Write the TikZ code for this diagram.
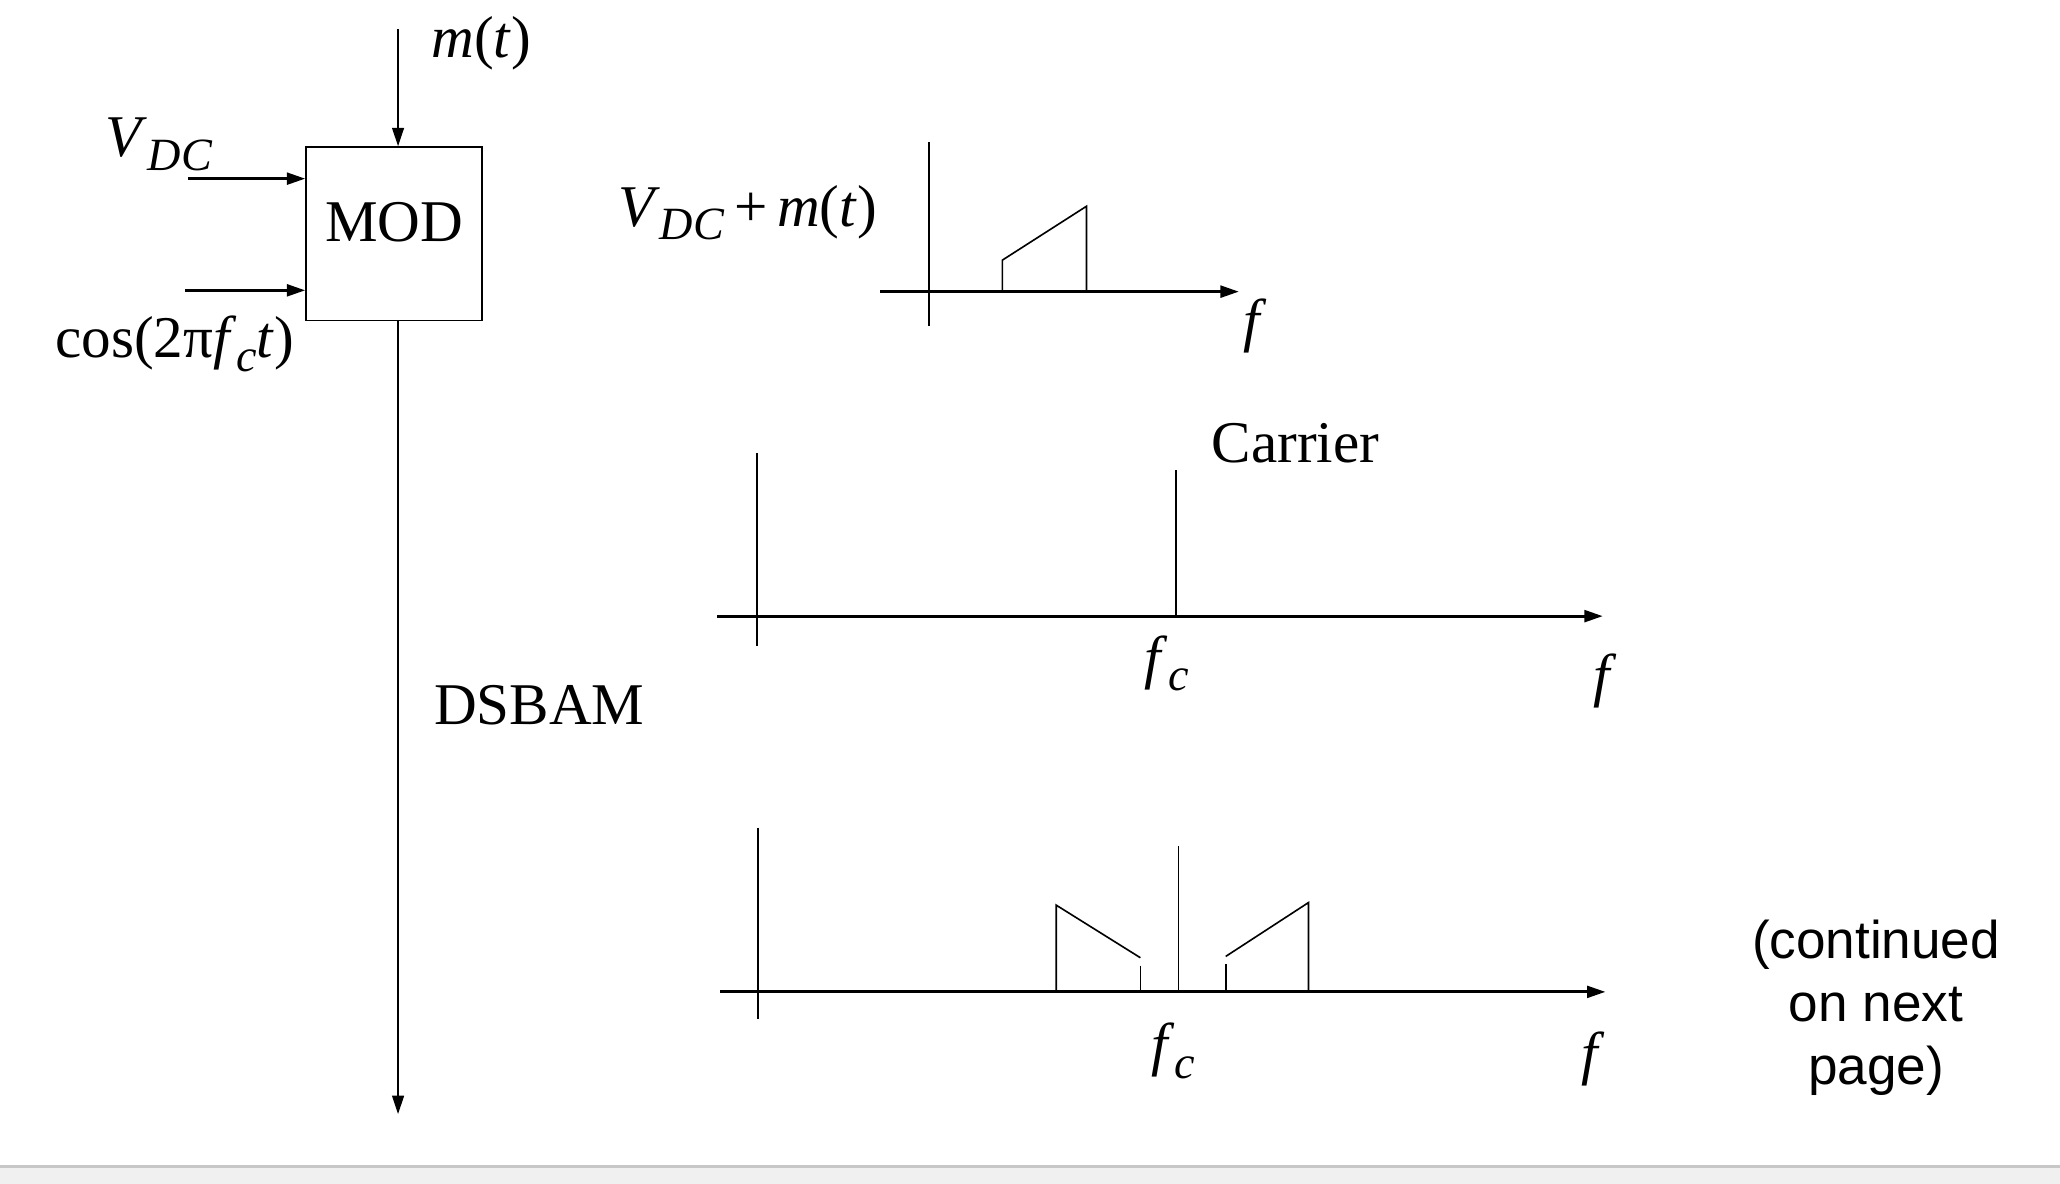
\documentclass[tikz,border=0pt]{standalone}
\usepackage{fontspec}
\setmainfont{Liberation Serif}
\newfontfamily\contfont{Liberation Sans}
\usetikzlibrary{arrows.meta}
\newcommand{\lowsub}[1]{\raisebox{-0.5ex}{\fontsize{10}{10}\selectfont\itshape #1}}

\begin{document}
\begin{tikzpicture}[x=0.01cm, y=-0.01cm,
    font=\fontsize{12.8}{15}\selectfont,
    arr/.style={-{Triangle[length=0.14cm, width=0.09cm]}},
    thin line/.style={line width=0.35pt},
    axis/.style={line width=0.6pt, -{Triangle[length=0.14cm, width=0.09cm]}}]
    \useasboundingbox (0,0) rectangle (1568,901);
    \fill[black!6] (0,888) rectangle (1568,901);
    \draw[black!22, line width=0.5pt] (0,888) -- (1568,888);

    % modulator
    \node[draw, thin line, minimum width=1.34cm, minimum height=1.32cm, inner sep=0pt,
          text height=0.3cm, text depth=0.18cm] (mod) at (300,178) {MOD};
    \coordinate (mtin) at (303,22);
    \coordinate (vin) at (143,136);
    \coordinate (cin) at (141,221);
    \coordinate (out) at (303,848);
    \node[anchor=west] (mt) at (316,33) {\textit{m}(\textit{t})};
    \node (vdc) at (121,110) {\textit{V}\lowsub{DC}};
    \node (cosl) at (133,262) {cos(2π\textit{f}\lowsub{c}\textit{t})};
    \node[anchor=west] (dsbam) at (318,537) {DSBAM};

    \draw[arr, thin line] (mtin) -- (mtin |- mod.north);
    \draw[arr, line width=0.6pt] (vin) -- (vin -| mod.west);
    \draw[arr, line width=0.6pt] (cin) -- (cin -| mod.west);
    \draw[arr, thin line] (out |- mod.south) -- (out);

    % V_DC + m(t)
    \node (sig) at (569,162) {\textit{V}\lowsub{DC}\,+\,\textit{m}(\textit{t})};
    \node (f1) at (955,248) {\textit{f}};
    \draw[thin line] (707,108) -- (707,248);
    \draw[axis] (670,222) -- (943,222);
    \draw[thin line] (763,222) -- (763,198) -- (827,157) -- (827,222);

    % carrier
    \node[anchor=west] (carr) at (910,337) {Carrier};
    \node (fc2) at (888,505) {\textit{f}\lowsub{c}};
    \node (f2) at (1222,518) {\textit{f}};
    \draw[thin line] (576,345) -- (576,492);
    \draw[axis] (546,469) -- (1220,469);
    \draw[thin line] (895,358) -- (895,469);

    % DSBAM spectrum
    \node (fc3) at (893,800) {\textit{f}\lowsub{c}};
    \node (f3) at (1213,806) {\textit{f}};
    \draw[thin line] (577,630) -- (577,776);
    \draw[axis] (548,755) -- (1222,755);
    \draw[thin line] (897,644) -- (897,755);
    \draw[thin line] (804,755) -- (804,689) -- (868,729);
    \draw[thin line] (868,735) -- (868,755);
    \draw[thin line] (933,755) -- (933,734);
    \draw[thin line] (933,728) -- (996,687) -- (996,755);

    \node[align=center, font=\contfont\fontsize{11.5}{13.7}\selectfont] (cont) at (1428,767)
        {(continued\\on next\\page)};
\end{tikzpicture}
\end{document}
